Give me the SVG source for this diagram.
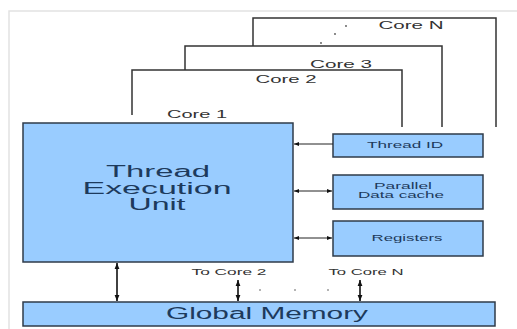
<svg xmlns="http://www.w3.org/2000/svg" width="517" height="329" viewBox="0 0 517 329">
  <style>
    .frame { fill: none; stroke: #e2e2e2; stroke-width: 1.5; }
    .core { fill: none; stroke: #333333; stroke-width: 1.5; }
    .box { fill: #99ccff; stroke: #2f3b4a; stroke-width: 1.5; }
    .lbl { font-family: "Liberation Sans", Arial, sans-serif; fill: #333333; text-anchor: middle; }
    .blue { font-family: "Liberation Sans", Arial, sans-serif; fill: #1d3a5c; text-anchor: middle; }
    .wire { fill: none; stroke: #222222; stroke-width: 1; }
    .bus { fill: none; stroke: #111111; stroke-width: 1.6; }
    .dot { fill: #555555; }
  </style>
  <defs>
    <marker id="ah" viewBox="0 0 10 10" refX="10" refY="5" markerWidth="7" markerHeight="5" orient="auto-start-reverse" markerUnits="userSpaceOnUse">
      <path d="M0,1 L10,5 L0,9 Z" fill="#111111"/>
    </marker>
    <marker id="ahv" viewBox="0 0 10 10" refX="10" refY="5" markerWidth="7" markerHeight="6" orient="auto-start-reverse" markerUnits="userSpaceOnUse">
      <path d="M0,1 L10,5 L0,9 Z" fill="#111111"/>
    </marker>
  </defs>

  <rect width="517" height="329" fill="#ffffff"/>
  <!-- light page frame -->
  <path class="frame" d="M9,329 V11 H517"/>

  <!-- stacked core outlines (open at the bottom) -->
  <g id="coreN">
    <path class="core" d="M253,46 V18 H496 V127"/>
    <text class="lbl" x="411" y="29" font-size="10" textLength="65" lengthAdjust="spacingAndGlyphs">Core N</text>
    <circle class="dot" cx="346" cy="26" r="0.9"/>
    <circle class="dot" cx="335" cy="34" r="0.9"/>
    <circle class="dot" cx="321" cy="43" r="0.9"/>
  </g>
  <g id="core3">
    <path class="core" d="M185,70 V46 H442 V127"/>
    <text class="lbl" x="341" y="68" font-size="10" textLength="62" lengthAdjust="spacingAndGlyphs">Core 3</text>
  </g>
  <g id="core2">
    <path class="core" d="M132,115 V70 H402 V127"/>
    <text class="lbl" x="286" y="83" font-size="10" textLength="61" lengthAdjust="spacingAndGlyphs">Core 2</text>
  </g>
  <g id="core1">
    <text class="lbl" x="197" y="118" font-size="10" textLength="60" lengthAdjust="spacingAndGlyphs">Core 1</text>
  </g>

  <g id="thread-execution-unit">
    <rect class="box" x="23" y="123" width="270" height="139"/>
    <text class="blue" x="158" y="177" font-size="16" textLength="104" lengthAdjust="spacingAndGlyphs">Thread</text>
    <text class="blue" x="157" y="194" font-size="16" textLength="149" lengthAdjust="spacingAndGlyphs">Execution</text>
    <text class="blue" x="157" y="210" font-size="16" textLength="57" lengthAdjust="spacingAndGlyphs">Unit</text>
  </g>

  <g id="thread-id">
    <rect class="box" x="333" y="134" width="150" height="23"/>
    <text class="blue" x="405" y="148" font-size="9" textLength="76" lengthAdjust="spacingAndGlyphs">Thread ID</text>
  </g>
  <g id="parallel-data-cache">
    <rect class="box" x="333" y="175" width="150" height="34"/>
    <text class="blue" x="403" y="189" font-size="8.5" textLength="58" lengthAdjust="spacingAndGlyphs">Parallel</text>
    <text class="blue" x="401" y="197.5" font-size="8.5" textLength="86" lengthAdjust="spacingAndGlyphs">Data cache</text>
  </g>
  <g id="registers">
    <rect class="box" x="333" y="221" width="150" height="35"/>
    <text class="blue" x="407" y="241" font-size="9" textLength="71" lengthAdjust="spacingAndGlyphs">Registers</text>
  </g>

  <g id="global-memory">
    <rect class="box" x="23" y="302" width="472" height="24"/>
    <text class="blue" x="267" y="319" font-size="16" textLength="202" lengthAdjust="spacingAndGlyphs">Global Memory</text>
  </g>

  <g id="connectors">
    <line class="wire" x1="333" y1="144" x2="294" y2="144" marker-end="url(#ah)"/>
    <line class="wire" x1="294" y1="191" x2="332" y2="191" marker-start="url(#ah)" marker-end="url(#ah)"/>
    <line class="wire" x1="294" y1="238" x2="332" y2="238" marker-start="url(#ah)" marker-end="url(#ah)"/>
    <line class="bus" x1="117" y1="263" x2="117" y2="301" marker-start="url(#ahv)" marker-end="url(#ahv)"/>
    <line class="bus" x1="238" y1="280" x2="238" y2="301" marker-start="url(#ahv)" marker-end="url(#ahv)"/>
    <line class="bus" x1="360" y1="280" x2="360" y2="301" marker-start="url(#ahv)" marker-end="url(#ahv)"/>
    <text class="lbl" x="229" y="275" font-size="9" textLength="75" lengthAdjust="spacingAndGlyphs">To Core 2</text>
    <text class="lbl" x="366" y="275" font-size="9" textLength="75" lengthAdjust="spacingAndGlyphs">To Core N</text>
    <circle class="dot" cx="260" cy="290" r="0.8"/>
    <circle class="dot" cx="295" cy="290" r="0.8"/>
    <circle class="dot" cx="328" cy="290" r="0.8"/>
  </g>
</svg>
